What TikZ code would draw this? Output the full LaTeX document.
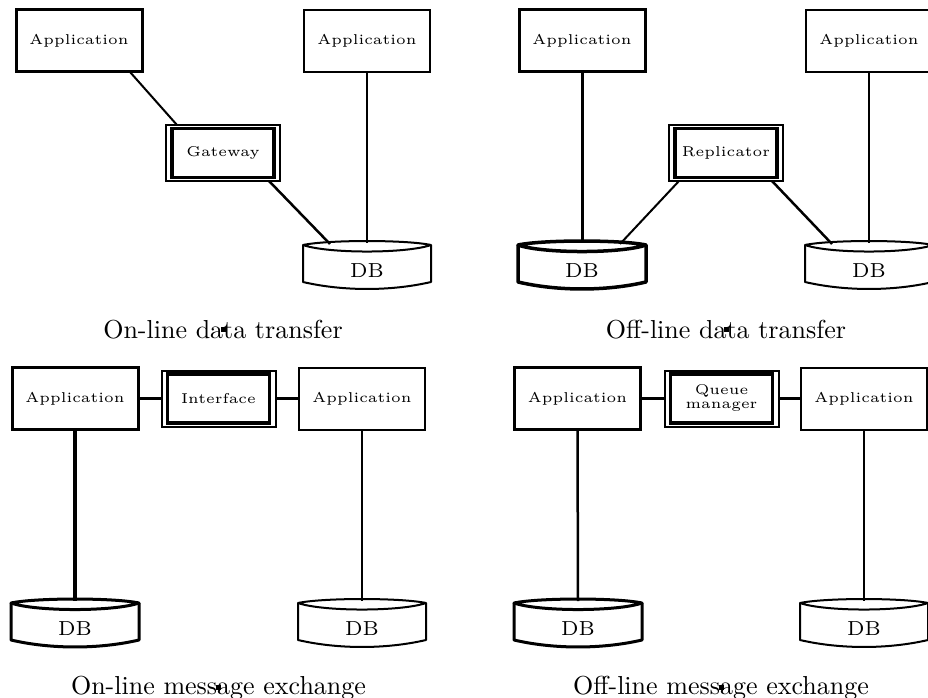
\documentclass[tikz,border=0pt]{standalone}
\usetikzlibrary{calc}

% labels: small optical sizes magnified
\newcommand\boxlabel[1]{\scalebox{2.85}{\tiny #1}}
\newcommand\twolinelabel[2]{\scalebox{2.85}{\fontsize{5}{5}\selectfont
  \begin{tabular}{@{}c@{}}#1\\#2\end{tabular}}}
\newcommand\captext[1]{\scalebox{2.6}{\normalsize #1}}

% database drum: name, x, y, line width
\newcommand\dbnode[4]{%
  \node[dbbox] (#1) at (#2,#3) {};
  \node (#1-text) at ([yshift=-6pt]#1.center) {\scalebox{2.9}{\scriptsize DB}};
  \draw[line width=#4, line join=round]
    ($(#1.north west)+(0,4)$)
      .. controls ($(#1.north west)+(25,-1.3)$) and ($(#1.north east)+(-25,-1.3)$) ..
    ($(#1.north east)+(0,4)$)
      .. controls ($(#1.north east)+(-25,12.7)$) and ($(#1.north west)+(25,12.7)$) ..
    cycle;
  \draw[line width=#4, line join=round]
    ($(#1.north west)+(0,4)$) -- ($(#1.south west)+(0,-7)$)
      .. controls ($(#1.south west)+(40,2.3)$) and ($(#1.south east)+(-40,2.3)$) ..
    ($(#1.south east)+(0,-7)$) -- ($(#1.north east)+(0,4)$);
}

\tikzset{
  every node/.style={inner sep=0pt, outer sep=0pt},
  appbox/.style={draw, minimum width=126pt, minimum height=62pt},
  thickapp/.style={appbox, line width=3pt},
  thinapp/.style={appbox, line width=2pt},
  midbox/.style={draw, line width=2pt, minimum width=114pt, minimum height=56pt},
  innerframe/.style={line width=3.5pt},
  dbbox/.style={minimum width=128pt, minimum height=48pt},
  dotmark/.style={fill=black, minimum size=5pt},
}

\begin{document}
\begin{tikzpicture}[x=1pt, y=-1pt]
\useasboundingbox (0,0) rectangle (928,698);

% ---------- on-line data transfer ----------
\node[thickapp] (a1) at (79,41) {\boxlabel{Application}};
\node[thinapp] (a2) at (367,41) {\boxlabel{Application}};
\node[midbox] (gw) at (223,153) {\boxlabel{Gateway}};
\draw[innerframe] ($(gw.north west)+(6,3.5)$) rectangle ($(gw.south east)+(-6,-3.5)$);
\dbnode{db1}{367}{265}{2pt}
\draw[line width=2pt] ($(a1.south east)+(-12,0)$) -- ($(gw.north west)+(11,0)$);
\draw[line width=2.5pt] ($(gw.south east)+(-11,0)$) -- ($(db1.north)+(-37,3)$);
\draw[line width=1.5pt] (a2.south) -- ($(db1.north)+(0,2)$);
\node[anchor=base] (c1) at (223,338) {\captext{On-line data transfer}};
\node[dotmark] (m1) at (c1.center) {};

% ---------- off-line data transfer ----------
\node[thickapp] (a3) at (582,41) {\boxlabel{Application}};
\node[thinapp] (a4) at (869,41) {\boxlabel{Application}};
\node[midbox] (rp) at (726,153) {\boxlabel{Replicator}};
\draw[innerframe] ($(rp.north west)+(6,3.5)$) rectangle ($(rp.south east)+(-6,-3.5)$);
\dbnode{db2}{582}{265}{3.5pt}
\dbnode{db3}{869}{265}{2pt}
\draw[line width=3pt] (a3.south) -- ($(db2.north)+(0,2)$);
\draw[line width=2pt] ($(rp.south west)+(10,0)$) -- ($(db2.north)+(38,3)$);
\draw[line width=2.5pt] ($(rp.south east)+(-11,0)$) -- ($(db3.north)+(-37,3)$);
\draw[line width=2.5pt] (a4.south) -- ($(db3.north)+(0,2)$);
\node[anchor=base] (c2) at (726,338) {\captext{Off-line data transfer}};
\node[dotmark] (m2) at (c2.center) {};

% ---------- on-line message exchange ----------
\node[thickapp] (a5) at (75,398.5) {\boxlabel{Application}};
\node[thinapp] (a6) at (362,398.5) {\boxlabel{Application}};
\node[midbox] (if) at (218.5,398.5) {\boxlabel{Interface}};
\draw[innerframe] ($(if.north west)+(6,3.5)$) rectangle ($(if.south east)+(-6,-3.5)$);
\dbnode{db4}{75}{623}{3pt}
\dbnode{db5}{362}{623}{2pt}
\draw[line width=2.5pt] (a5.east) -- (if.west);
\draw[line width=2.5pt] (if.east) -- (a6.west);
\draw[line width=4pt] (a5.south) -- ($(db4.north)+(0,2)$);
\draw[line width=1.5pt] (a6.south) -- ($(db5.north)+(0,2)$);
\node[anchor=base] (c3) at (218.5,694) {\captext{On-line message exchange}};
\node[dotmark] (m3) at (c3.center) {};

% ---------- off-line message exchange ----------
\node[thickapp] (a7) at (577.5,398.5) {\boxlabel{Application}};
\node[thinapp] (a8) at (864,398.5) {\boxlabel{Application}};
\node[midbox] (qm) at (721.5,398.5) {\twolinelabel{Queue}{manager}};
\draw[innerframe] ($(qm.north west)+(6,3.5)$) rectangle ($(qm.south east)+(-6,-3.5)$);
\dbnode{db6}{578}{623}{3pt}
\dbnode{db7}{864}{623}{2pt}
\draw[line width=2.5pt] (a7.east) -- (qm.west);
\draw[line width=2.5pt] (qm.east) -- (a8.west);
\draw[line width=2.5pt] (a7.south) -- ($(db6.north)+(0,2)$);
\draw[line width=1.5pt] (a8.south) -- ($(db7.north)+(0,2)$);
\node[anchor=base] (c4) at (721,694) {\captext{Off-line message exchange}};
\node[dotmark] (m4) at (c4.center) {};
\end{tikzpicture}
\end{document}
